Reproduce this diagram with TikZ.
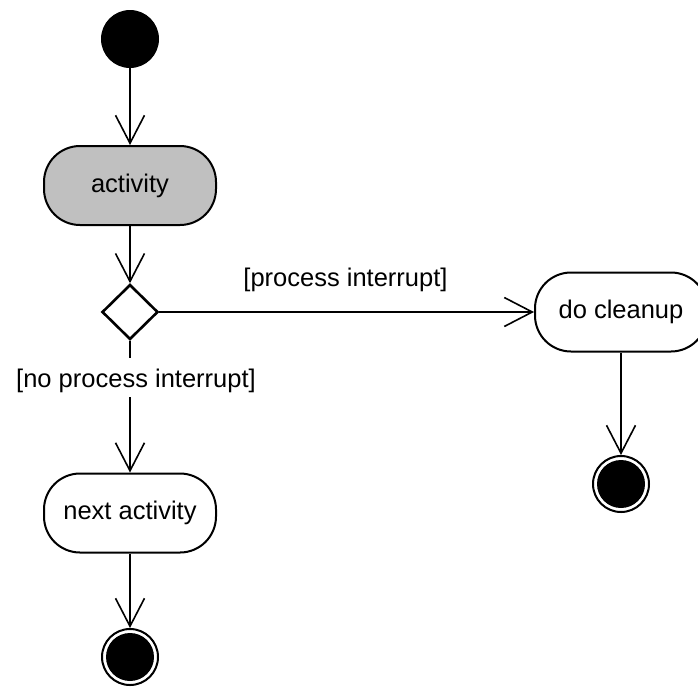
\documentclass[tikz,border=0pt]{standalone}
\usepackage{fontspec}
\setmainfont{Liberation Sans}
\usetikzlibrary{arrows.meta,shapes.geometric}

\tikzset{
  flow/.style={line width=1.6pt, -{Straight Barb[length=28pt,width=29pt,line width=1.6pt]}},
  actbox/.style={draw, line width=2pt, rectangle, rounded corners=36pt,
                 minimum width=172pt, minimum height=79pt, inner sep=0pt},
  startdot/.style={circle, fill=black, minimum size=58pt, inner sep=0pt},
  enddot/.style={circle, draw, line width=2pt, minimum size=56pt, inner sep=0pt},
  choice/.style={diamond, draw, line width=2.6pt, minimum width=56pt, minimum height=55pt, inner sep=0pt},
  guard/.style={anchor=base, inner xsep=2pt, inner ysep=4.6pt, text height=24.4pt, text depth=5.4pt}
}

\begin{document}
\begin{tikzpicture}[x=1pt, y=-1pt, font=\fontsize{25.5}{30}\selectfont]
  \useasboundingbox (0,0) rectangle (698,686);

  % nodes
  \node[startdot] (start) at (130,39) {};
  \node[actbox, fill={rgb,255:red,192;green,192;blue,192}] (act) at (130,185.5) {activity};
  \node[choice] (dec) at (130,312) {};
  \node[actbox, fill=white] (clean) at (621,312) {do cleanup};
  \node[actbox, fill=white] (next) at (130,513) {next activity};
  \node[enddot] (endA) at (130,657) {};
  \node[enddot] (endB) at (621,484) {};
  \fill (endA.center) circle (24pt);
  \fill (endB.center) circle (24pt);

  % transitions
  \draw[flow] (start) -- (act);
  \draw[flow] (act) -- (dec);
  \draw[flow] (dec.east) -- (clean.west);
  \draw[flow] (dec.south) -- (next.north);
  \draw[flow] (clean) -- (endB);
  \draw[flow] (next) -- (endA);

  % guards
  \node[guard] (gyes) at (345.5,286) {[process interrupt]};
  \node[guard, fill=white] (gno) at (136,387) {[no process interrupt]};
\end{tikzpicture}
\end{document}
